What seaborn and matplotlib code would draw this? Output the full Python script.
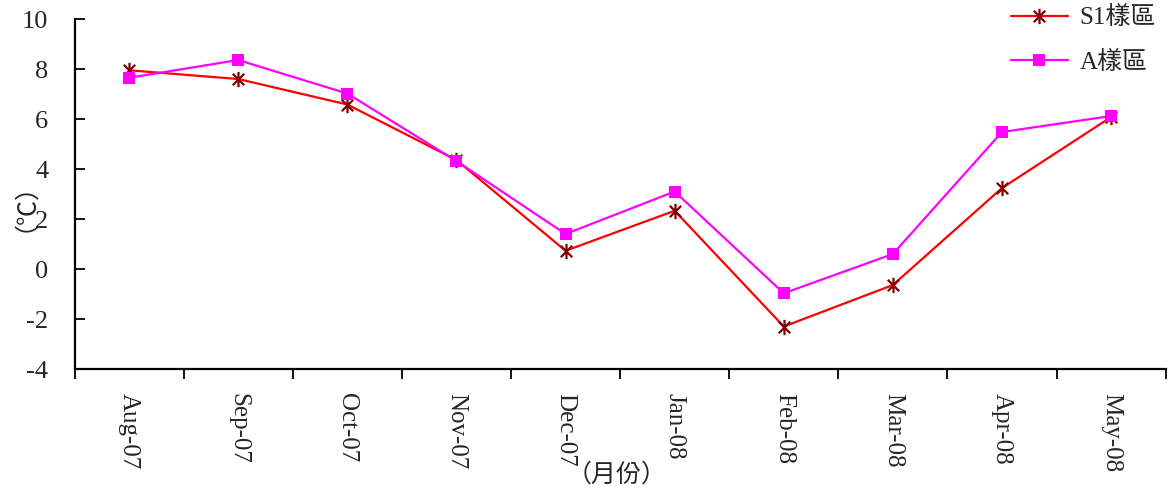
import numpy as np
import pandas as pd
import matplotlib
matplotlib.use("Agg")
import matplotlib.pyplot as plt
from matplotlib.path import Path
import seaborn as sns

# Monthly temperature (°C) at two plots
months = ["Aug-07", "Sep-07", "Oct-07", "Nov-07", "Dec-07",
          "Jan-08", "Feb-08", "Mar-08", "Apr-08", "May-08"]
s1_values = [7.95, 7.6, 6.58, 4.36, 0.73, 2.33, -2.3, -0.64, 3.24, 6.08]
a_values = [7.65, 8.36, 7.02, 4.32, 1.4, 3.1, -0.97, 0.6, 5.48, 6.12]
series_names = ["S1樣區", "A樣區"]
y_ticks = [-4, -2, 0, 2, 4, 6, 8, 10]

sns.set_theme(style="white")
plt.rcParams["font.family"] = ["Liberation Serif", "Noto Sans CJK TC", "DejaVu Sans"]
plt.rcParams["axes.unicode_minus"] = False

df = pd.DataFrame({
    "pos": list(range(len(months))) * 2,
    "month": months * 2,
    "temp": s1_values + a_values,
    "plot": [series_names[0]] * len(months) + [series_names[1]] * len(months),
})

# Six-armed asterisk: vertical stroke plus an X
asterisk = Path(
    [(0, -1), (0, 1), (-0.75, -0.75), (0.75, 0.75), (-0.75, 0.75), (0.75, -0.75)],
    [Path.MOVETO, Path.LINETO, Path.MOVETO, Path.LINETO, Path.MOVETO, Path.LINETO],
)

fig = plt.figure(figsize=(11.68, 4.94), dpi=100)
ax = fig.add_axes([0.0638, 0.253, 0.9342, 0.7085])

sns.lineplot(data=df[df["plot"] == series_names[0]], x="pos", y="temp", ax=ax,
             color="#ff0000", linewidth=1.6, marker=asterisk, markersize=11,
             markeredgecolor="#800000", markerfacecolor="none", markeredgewidth=1.6,
             label=series_names[0], sort=False)
sns.lineplot(data=df[df["plot"] == series_names[1]], x="pos", y="temp", ax=ax,
             color="#ff00ff", linewidth=1.6, marker="s", markersize=8.5,
             markeredgecolor="#ff00ff", markerfacecolor="#ff00ff", markeredgewidth=0,
             label=series_names[1], sort=False)

ax.set_xlim(-0.5, len(months) - 0.5)
ax.set_ylim(-4, 10)

# Category boundaries carry the tick marks, centers carry the labels
ax.set_xticks(np.arange(-0.5, len(months), 1.0))
ax.set_xticklabels([])
ax.set_xticks(np.arange(len(months)), minor=True)
ax.set_xticklabels(months, minor=True, rotation=-90, fontsize=18)
ax.tick_params(axis="x", which="major", direction="out", length=7, width=1.3,
               color="black", bottom=True)
ax.tick_params(axis="x", which="minor", length=0, pad=17, bottom=True)

ax.set_yticks(y_ticks)
ax.set_yticklabels([str(v) for v in y_ticks], fontsize=19)
ax.tick_params(axis="y", direction="in", length=7, width=1.3, color="black",
               pad=19, left=True)

for side in ["top", "right"]:
    ax.spines[side].set_visible(False)
for side in ["left", "bottom"]:
    ax.spines[side].set_color("black")
    ax.spines[side].set_linewidth(1.6)

ax.set_ylabel("（℃）", fontsize=18)
ax.yaxis.set_label_coords(-0.046, 0.5)
ax.set_xlabel("（月份）", fontsize=18, va="center")
ax.xaxis.set_label_coords(0.497, -0.303)

ax.legend(loc="upper right", bbox_to_anchor=(1.0, 1.065), frameon=False,
          fontsize=18, handlelength=2.3, handletextpad=0.45, labelspacing=0.85,
          borderaxespad=0)

fig.savefig("out.png", dpi=100, facecolor="white")
